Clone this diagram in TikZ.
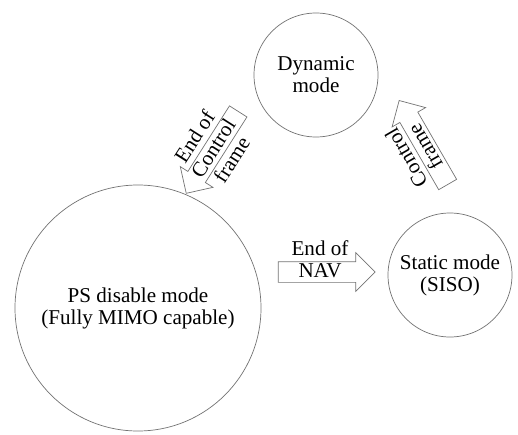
\documentclass[tikz,border=0pt]{standalone}
\usepackage{fontspec}
\setmainfont{Liberation Serif}
\usetikzlibrary{shapes.arrows}
\tikzset{
  mode/.style={circle, draw=black!55, line width=0.4pt, inner sep=0pt, align=center, font=\fontsize{12}{12.5}\selectfont},
  blockarrow/.style={single arrow, draw=black!55, line width=0.4pt, inner xsep=0pt, inner ysep=0.2cm, single arrow head extend=0.18cm, minimum height=1.94cm},
  arrowtext/.style={align=center, inner sep=0pt, font=\fontsize{12}{12.5}\selectfont}
}
\begin{document}
\begin{tikzpicture}
\useasboundingbox (0,0) rectangle (10.36,8.68);
\node[mode, minimum size=4.92cm] (m0) at (2.76,2.52) {PS disable mode\\(Fully MIMO capable)};
\node[mode, minimum size=2.48cm] (m1) at (6.32,7.18) {Dynamic\\mode};
\node[mode, minimum size=2.48cm] (m2) at (9.0,3.18) {Static mode\\(SISO)};
\node[blockarrow, rotate=237.6] (a0) at (4.30,5.72) {};
\node[arrowtext, rotate=57.5] (t0) at (4.26,5.72) {End of\\Control\\frame};
\node[blockarrow, rotate=120] (a1) at (8.52,5.74) {};
\node[arrowtext, rotate=120] (t1) at (8.31,5.63) {Control\\frame};
\node[blockarrow] (a2) at (6.43,3.24) {};
\node[arrowtext] (t2) at (6.4,3.5) {End of\\NAV};
\end{tikzpicture}
\end{document}
